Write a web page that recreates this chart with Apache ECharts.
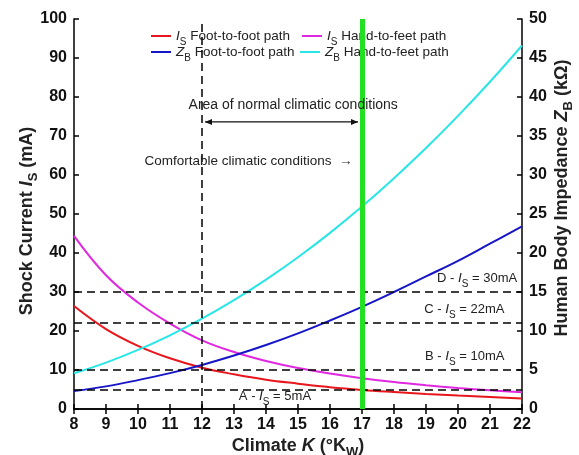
<!DOCTYPE html>
<html><head><meta charset="utf-8">
<script src="https://cdn.jsdelivr.net/npm/echarts@6/dist/echarts.min.js"></script>
<style>html,body{margin:0;padding:0;background:#fff}#c{width:579px;height:455px}</style>
</head><body><div id="c"></div>
<script>
// ---- data ----
const climateK = [8, 9, 10, 11, 12, 13, 14, 15, 16, 17, 18, 19, 20, 21, 22];
const isFootToFoot = [26.4, 20.5, 16.2, 13.0, 10.6, 8.9, 7.5, 6.5, 5.6, 4.9, 4.35, 3.85, 3.45, 3.1, 2.7];
const isHandToFeet = [44.4, 34.3, 27.3, 21.9, 17.6, 14.6, 12.3, 10.5, 9.1, 7.9, 6.9, 6.1, 5.4, 4.8, 4.3];
const zbFootToFoot = [2.3, 2.9, 3.7, 4.6, 5.65, 6.85, 8.2, 9.7, 11.35, 13.1, 15.0, 17.0, 19.0, 21.2, 23.4];
const zbHandToFeet = [4.58, 5.95, 7.58, 9.45, 11.58, 13.95, 16.58, 19.45, 22.58, 25.95, 29.58, 33.45, 37.58, 41.95, 46.6];
const currentLimits = [30, 22, 10, 5];
const limitLabels = ['D', 'C', 'B', 'A'];
const comfortK = 12;
const normalK = 17;
const legendTexts = {
  IS_FF: '{it|I}{sub|S} Foot-to-foot path',
  IS_HF: '{it|I}{sub|S} Hand-to-feet path',
  ZB_FF: '{it|Z}{sub|B} Foot-to-foot path',
  ZB_HF: '{it|Z}{sub|B} Hand-to-feet path'
};

const FONT = 'Liberation Sans, Arial, sans-serif';
const richSmall = {
  it: {fontStyle: 'italic', fontSize: 13.5, lineHeight: 22, fontFamily: FONT, color: '#222'},
  sub: {fontSize: 10, verticalAlign: 'bottom', fontFamily: FONT, color: '#222'}
};
const richBig = {
  it: {fontStyle: 'italic', fontWeight: 'bold', fontSize: 18, lineHeight: 26, fontFamily: FONT, color: '#222'},
  sub: {fontSize: 13, fontWeight: 'bold', verticalAlign: 'bottom', fontFamily: FONT, color: '#222'}
};

const zip = (xs, ys) => xs.map((x, i) => [x, ys[i]]);
const colors = {IS_FF: '#e8161c', IS_HF: '#e028e0', ZB_FF: '#1616c8', ZB_HF: '#28e6e6'};

const chart = echarts.init(document.getElementById('c'), null, {renderer: 'canvas'});

const legendPos = [
  {name: 'IS_FF', left: 146, top: 20},
  {name: 'IS_HF', left: 297, top: 20},
  {name: 'ZB_FF', left: 146, top: 36},
  {name: 'ZB_HF', left: 295, top: 36}
];

const lineSeries = (name, data, yIdx) => ({
  name, type: 'line', data, yAxisIndex: yIdx, smooth: 0.4, symbol: 'none',
  lineStyle: {color: colors[name], width: 2}, itemStyle: {color: colors[name]}, z: 3
});

const s0 = lineSeries('IS_FF', zip(climateK, isFootToFoot), 0);
s0.markLine = {
  silent: true, symbol: 'none', label: {show: false}, animation: false,
  lineStyle: {color: '#000', type: [8, 5], width: 1.5},
  data: currentLimits.map(v => ({yAxis: v})).concat([{xAxis: comfortK}])
};
const s1 = lineSeries('IS_HF', zip(climateK, isHandToFeet), 0);
s1.markLine = {
  silent: true, symbol: 'none', label: {show: false}, animation: false,
  lineStyle: {color: '#22e022', type: 'solid', width: 5},
  data: [{xAxis: normalK}]
};
const s2 = lineSeries('ZB_FF', zip(climateK, zbFootToFoot), 1);
const s3 = lineSeries('ZB_HF', zip(climateK, zbHandToFeet), 1);

const axisLabelStyle = {color: '#111', fontWeight: 'bold', fontSize: 16, fontFamily: FONT};
const nameStyle = (pad) => ({fontSize: 18, fontWeight: 'bold', fontFamily: FONT, color: '#222', lineHeight: 26, rich: richBig, padding: pad});

chart.setOption({
  animation: false,
  backgroundColor: '#fff',
  grid: {left: 74, right: 57, top: 19, bottom: 46, containLabel: false, outerBoundsMode: 'none'},
  legend: legendPos.map(p => ({
    data: [p.name], left: p.left, top: p.top, orient: 'horizontal',
    icon: 'rect', itemWidth: 20, itemHeight: 2, itemGap: 4, selectedMode: false,
    formatter: n => legendTexts[n],
    textStyle: {fontSize: 13.5, fontFamily: FONT, color: '#222', lineHeight: 22, rich: richSmall}
  })),
  xAxis: [{
    type: 'value', min: 8, max: 22, interval: 1, position: 'bottom',
    axisLine: {lineStyle: {color: '#000', width: 1.5}},
    axisTick: {inside: true, length: 5, lineStyle: {color: '#000', width: 1.5}},
    axisLabel: Object.assign({margin: 8}, axisLabelStyle),
    splitLine: {show: false},
    name: 'Climate {it|K} (°K{sub|W})', nameLocation: 'middle', nameGap: 24, nameMoveOverlap: false,
    nameTextStyle: nameStyle([0, 0, 0, 0])
  }, {
    type: 'value', min: 8, max: 22, interval: 1, position: 'top',
    axisLine: {lineStyle: {color: '#000', width: 1.5}},
    axisTick: {inside: true, length: 5, lineStyle: {color: '#000', width: 1.5}},
    axisLabel: {show: false}, splitLine: {show: false}
  }],
  yAxis: [{
    type: 'value', min: 0, max: 100, interval: 10, position: 'left',
    axisLine: {show: true, lineStyle: {color: '#000', width: 1.5}},
    axisTick: {show: true, inside: true, length: 5, lineStyle: {color: '#000', width: 1.5}},
    axisLabel: Object.assign({margin: 7}, axisLabelStyle),
    splitLine: {show: false},
    name: 'Shock Current {it|I}{sub|S} (mA)', nameLocation: 'middle', nameRotate: 90, nameGap: 34, nameMoveOverlap: false,
    nameTextStyle: nameStyle([0, 14, 0, 0])
  }, {
    type: 'value', min: 0, max: 50, interval: 5, position: 'right',
    axisLine: {show: true, lineStyle: {color: '#000', width: 1.5}},
    axisTick: {show: true, inside: true, length: 5, lineStyle: {color: '#000', width: 1.5}},
    axisLabel: Object.assign({margin: 7}, axisLabelStyle),
    splitLine: {show: false},
    name: 'Human Body Impedance {it|Z}{sub|B} (kΩ)', nameLocation: 'middle', nameRotate: 90, nameGap: 27, nameMoveOverlap: false,
    nameTextStyle: nameStyle([0, 0, 0, 32])
  }],
  series: [s0, s1, s2, s3]
});

// ---- annotations anchored to data coordinates ----
const px = (x, y) => chart.convertToPixel({xAxisIndex: 0, yAxisIndex: 0}, [x, y]);
const txtStyle = (text, align, size) => ({
  text, fontSize: size, fontFamily: FONT, fill: '#222', align: align, verticalAlign: 'middle',
  lineHeight: 22, rich: richSmall
});
const g = [];
// Area text
const pArea = px((comfortK + normalK) / 2 + 0.35, 78.0);
g.push({type: 'text', x: pArea[0], y: pArea[1], style: txtStyle('Area of normal climatic conditions', 'center', 14), z: 10});
// double arrow
const a1 = px(comfortK, 73.6), a2 = px(normalK, 73.6);
const ax1 = a1[0] + 3, ax2 = a2[0] - 4, ay = a1[1];
g.push({type: 'line', shape: {x1: ax1, y1: ay, x2: ax2, y2: ay}, style: {stroke: '#111', lineWidth: 1.2}, z: 10});
g.push({type: 'polygon', shape: {points: [[ax1, ay], [ax1 + 7, ay - 3], [ax1 + 7, ay + 3]]}, style: {fill: '#111'}, z: 10});
g.push({type: 'polygon', shape: {points: [[ax2, ay], [ax2 - 7, ay - 3], [ax2 - 7, ay + 3]]}, style: {fill: '#111'}, z: 10});
// comfortable text
const pCom = px(16.7, 63.4);
g.push({type: 'text', x: pCom[0], y: pCom[1], style: txtStyle('Comfortable climatic conditions  \u2192', 'right', 13.5), z: 10});
// limit labels
const limitPos = [[21.85, 33.6], [21.45, 25.6], [21.45, 13.5], [14.28, 3.2]];
currentLimits.forEach((v, i) => {
  const p = px(limitPos[i][0], limitPos[i][1]);
  const t = limitLabels[i] + ' - {it|I}{sub|S} = ' + v + 'mA';
  g.push({type: 'text', x: p[0], y: p[1], style: txtStyle(t, i === 3 ? 'center' : 'right', 13), z: 10});
});
chart.setOption({graphic: g});
</script>
</body></html>
